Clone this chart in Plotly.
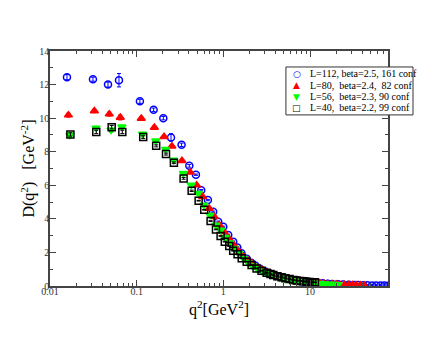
import plotly.graph_objects as go

# L=112, beta=2.5, 161 conf
blue_q2 = [0.0157, 0.0313, 0.0467, 0.0625, 0.109, 0.157, 0.203, 0.249, 0.330, 0.405,
           0.483, 0.556, 0.664, 0.764, 0.873, 1.00, 1.14, 1.30, 1.45, 1.62,
           1.86, 2.10, 2.35, 2.65, 3.0, 3.4, 3.9, 4.5, 5.2, 6.0,
           7.0, 8.0, 9.2, 10.5, 12, 14, 16, 18, 21, 24,
           28, 32, 36, 41, 46, 52, 58, 65, 72, 79]
blue_d = [12.44, 12.32, 12.00, 12.26, 11.00, 10.50, 10.00, 8.85, 8.41, 7.16,
          6.63, 5.71, 5.12, 4.42, 3.83, 3.53, 3.04, 2.64, 2.30, 1.95,
          1.62, 1.38, 1.20, 1.03, 0.88, 0.76, 0.65, 0.55, 0.47, 0.40,
          0.34, 0.29, 0.25, 0.22, 0.19, 0.16, 0.14, 0.12, 0.10, 0.09,
          0.075, 0.065, 0.055, 0.048, 0.042, 0.036, 0.032, 0.028, 0.025, 0.022]
blue_err = [0.15, 0.12, 0.15, 0.40, 0.12, 0.10, 0.10, 0.22, 0.10, 0.08] + [0.04] * 40

# L=80, beta=2.4, 82 conf
red_q2 = [0.0163, 0.0325, 0.0483, 0.0647, 0.113, 0.160, 0.207, 0.255, 0.333, 0.415,
          0.492, 0.577, 0.687, 0.785, 0.897, 1.02, 1.15, 1.30, 1.48, 1.68,
          1.90, 2.15, 2.45, 2.80, 3.2, 3.6, 4.1, 4.7, 5.4, 6.2,
          7.1, 8.1, 9.2, 10.4, 11.7, 13, 14.5, 16, 18, 20,
          22, 25, 28, 31, 34, 38, 42]
red_d = [10.18, 10.43, 10.24, 10.04, 9.98, 9.45, 8.89, 8.33, 7.46, 6.77,
         6.01, 5.32, 4.62, 4.13, 3.63, 3.22, 2.85, 2.48, 2.12, 1.80,
         1.55, 1.32, 1.12, 0.96, 0.82, 0.71, 0.61, 0.52, 0.44, 0.38,
         0.32, 0.28, 0.24, 0.21, 0.18, 0.16, 0.14, 0.125, 0.11, 0.10,
         0.09, 0.08, 0.07, 0.062, 0.056, 0.05, 0.045]
red_err = [0.12, 0.10, 0.12, 0.15, 0.10, 0.10, 0.08, 0.08, 0.08, 0.06] + [0.03] * 37

# L=56, beta=2.3, 90 conf
green_q2 = [0.0170, 0.0340, 0.0506, 0.0676, 0.117, 0.166, 0.216, 0.267, 0.345, 0.426,
            0.513, 0.597, 0.700, 0.820, 0.930, 1.05, 1.18, 1.33, 1.50, 1.70,
            1.92, 2.17, 2.45, 2.77, 3.1, 3.5, 4.0, 4.5, 5.1, 5.8,
            6.6, 7.5, 8.5, 9.6, 10.8, 12, 13.5, 15, 17, 19, 21]
green_d = [8.99, 9.42, 9.29, 9.48, 9.05, 8.65, 8.15, 7.50, 6.71, 6.01,
           5.52, 4.82, 4.23, 3.63, 3.33, 2.90, 2.58, 2.25, 1.95, 1.66,
           1.42, 1.21, 1.04, 0.89, 0.77, 0.67, 0.57, 0.49, 0.43, 0.37,
           0.32, 0.28, 0.24, 0.21, 0.185, 0.165, 0.145, 0.13, 0.115, 0.10, 0.09]
green_err = [0.12, 0.10, 0.12, 0.10, 0.08, 0.08, 0.06, 0.06, 0.06, 0.05] + [0.03] * 31

# L=40, beta=2.2, 99 conf
black_q2 = [0.0172, 0.0342, 0.0515, 0.0683, 0.119, 0.168, 0.218, 0.269, 0.348, 0.431,
            0.519, 0.602, 0.713, 0.822, 0.93, 1.04, 1.17, 1.30, 1.46, 1.63,
            1.86, 2.12, 2.42, 2.76, 3.16, 3.50, 3.77, 4.2, 4.70, 5.2,
            5.8, 6.40, 7.0, 7.7, 8.4, 9.1, 9.9, 10.6, 11.4]
black_d = [9.03, 9.18, 9.46, 9.18, 8.87, 8.35, 7.86, 7.34, 6.41, 5.67,
           5.08, 4.54, 3.87, 3.37, 2.98, 2.64, 2.38, 2.10, 1.89, 1.65,
           1.45, 1.25, 1.05, 0.91, 0.79, 0.71, 0.65, 0.58, 0.52, 0.46,
           0.41, 0.36, 0.33, 0.30, 0.28, 0.26, 0.24, 0.23, 0.22]
black_err = [0.10, 0.10, 0.10, 0.10, 0.08, 0.06, 0.06, 0.05, 0.05, 0.04] + [0.02] * 29

legend_names = ['L=112, beta=2.5, 161 conf',
                'L=80,\u00a0 beta=2.4,\u00a0 82 conf',
                'L=56,\u00a0 beta=2.3, 90 conf',
                'L=40,\u00a0 beta=2.2, 99 conf']

x_ticks = [0.01, 0.1, 1, 10]
x_ticktext = ['0.01', '0.1', '1', '10']
y_ticks = [0, 2, 4, 6, 8, 10, 12, 14]

SERIF = 'Liberation Serif, Times New Roman, serif'

series = [
    (blue_q2, blue_d, blue_err, '#0000ff', 'circle-open', '\u25cb'),
    (red_q2, red_d, red_err, '#ff0000', 'triangle-up', '\u25b2'),
    (green_q2, green_d, green_err, '#00ff00', 'triangle-down', '\u25bc'),
    (black_q2, black_d, black_err, '#000000', 'square-open', '\u25a1'),
]

fig = go.Figure()
for (q2, d, err, color, symbol, _), name in zip(series, legend_names):
    fig.add_trace(go.Scatter(
        x=q2, y=d, mode='markers', name=name, showlegend=False,
        marker=dict(symbol=symbol, size=7, color=color, line=dict(color=color, width=1.5)),
        error_y=dict(type='data', array=err, color=color, thickness=1, width=2)))

# hand-made legend box (xmgrace style, tight rows)
fig.add_shape(type='rect', xref='paper', yref='paper', x0=0.698, x1=1.074, y0=0.728, y1=0.932,
              line=dict(color='#333333', width=1), fillcolor='white', layer='above')
row_y = [0.903, 0.854, 0.806, 0.759]
for (_, _, _, color, _, glyph), name, yy in zip(series, legend_names, row_y):
    fig.add_annotation(x=0.730, y=yy, xref='paper', yref='paper', text=glyph, showarrow=False,
                       font=dict(family='DejaVu Sans', size=9, color=color), xanchor='center', yanchor='middle')
    fig.add_annotation(x=0.763, y=yy, xref='paper', yref='paper', text=name, showarrow=False,
                       font=dict(family=SERIF, size=10, color='black'), xanchor='left', yanchor='middle')

# axis titles
fig.add_annotation(x=-0.065, y=0.5, xref='paper', yref='paper', textangle=-90, showarrow=False,
                   xanchor='center', yanchor='middle',
                   text='D(q<sup>2</sup>)\u00a0\u00a0\u00a0[GeV<sup>-2</sup>]',
                   font=dict(family=SERIF, size=16, color='black'))
fig.add_annotation(x=0.5, y=-0.094, xref='paper', yref='paper', showarrow=False,
                   xanchor='center', yanchor='middle',
                   text='q<sup>2</sup>[GeV<sup>2</sup>]',
                   font=dict(family=SERIF, size=16, color='black'))

minor_x = [m * 10 ** e for e in (-2, -1, 0, 1) for m in range(2, 10) if m * 10 ** e < 79]

# page body has an 8px margin, so the figure is 8px smaller than the window
fig.update_layout(
    width=428, height=329,
    margin=dict(l=42, r=48, t=43, b=51),
    paper_bgcolor='white', plot_bgcolor='white',
    font=dict(family=SERIF, size=10, color='#333333'),
    xaxis=dict(type='log', range=[-2, 1.9], tickvals=x_ticks, ticktext=x_ticktext,
               ticks='inside', ticklen=6, tickcolor='#444444', showline=True, linecolor='#444444',
               linewidth=1.5, mirror='ticks', showgrid=False, zeroline=False, ticklabelstandoff=-5,
               minor=dict(tickvals=minor_x, ticks='inside', ticklen=3, tickcolor='#444444', showgrid=False)),
    yaxis=dict(range=[0, 14], tickvals=y_ticks, ticks='inside', ticklen=6, tickcolor='#444444',
               showline=True, linecolor='#444444', linewidth=1.5, mirror='ticks',
               showgrid=False, zeroline=False, ticklabelstandoff=-3,
               minor=dict(dtick=1, ticks='inside', ticklen=3, tickcolor='#444444', showgrid=False)),
)

fig.write_html('out.html')
